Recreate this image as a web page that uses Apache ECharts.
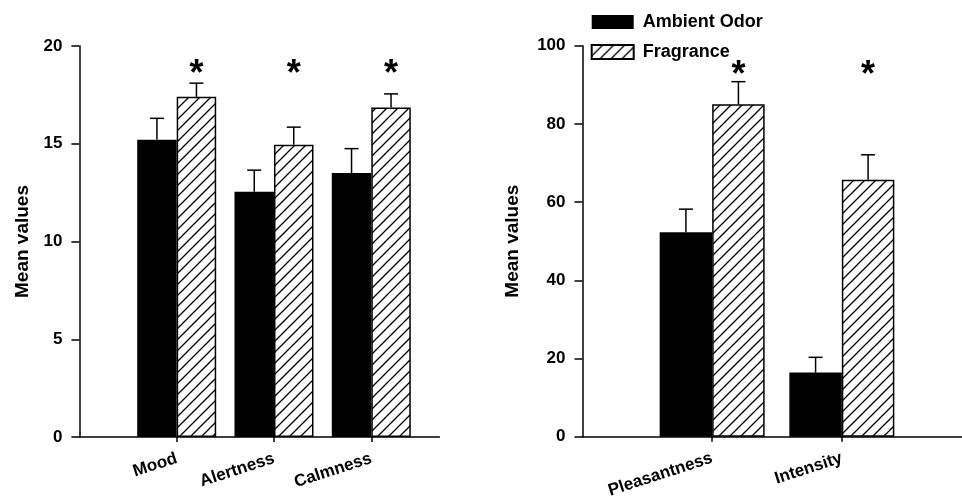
<!DOCTYPE html>
<html><head><meta charset="utf-8">
<script src="https://cdn.jsdelivr.net/npm/echarts@6/dist/echarts.min.js"></script>
<style>html,body{margin:0;padding:0;background:#fff}#c{width:962px;height:497px}</style>
</head><body><div id="c"></div>
<script>
// ---- data ----
const leftCategories = ['Mood', 'Alertness', 'Calmness'];
const leftAmbient = [15.2, 12.55, 13.5];
const leftAmbientErr = [1.1, 1.1, 1.25];
const leftFragrance = [17.4, 14.95, 16.85];
const leftFragranceErr = [0.7, 0.9, 0.7];
const leftStarLevel = [18.9, 18.9, 18.9];
const leftTicks = [0, 5, 10, 15, 20];

const rightCategories = ['Pleasantness', 'Intensity'];
const rightAmbient = [52.3, 16.4];
const rightAmbientErr = [5.9, 3.9];
const rightFragrance = [85.0, 65.7];
const rightFragranceErr = [5.8, 6.4];
const rightStarLevel = [94.2, 94.2];
const rightTicks = [0, 20, 40, 60, 80, 100];

const seriesNames = ['Ambient Odor', 'Fragrance'];

// ---- styles ----
const FONT = 'Liberation Sans, Arial, sans-serif';
function hatchCanvas() {
  const s = 11;
  const c = document.createElement('canvas');
  c.width = s; c.height = s;
  const g = c.getContext('2d');
  g.fillStyle = '#fff'; g.fillRect(0, 0, s, s);
  g.strokeStyle = '#000'; g.lineWidth = 1.3;
  g.beginPath();
  g.moveTo(-2, s + 2); g.lineTo(s + 2, -2);
  g.moveTo(-2, 2); g.lineTo(2, -2);
  g.moveTo(s - 2, s + 2); g.lineTo(s + 2, s - 2);
  g.stroke();
  return c;
}
const hatch = { image: hatchCanvas(), repeat: 'repeat' };

const chart = echarts.init(document.getElementById('c'), null, { renderer: 'canvas' });

function xAxisCfg(gridIndex, cats, max) {
  return {
    type: 'value', gridIndex, min: 0, max, interval: 1,
    splitLine: { show: false },
    axisLine: { lineStyle: { color: '#000', width: 1.5 } },
    axisTick: { show: true, length: 5, customValues: cats.map((c, i) => i + 1), lineStyle: { color: '#000', width: 1.5 } },
    axisLabel: {
      customValues: cats.map((c, i) => i + 1),
      formatter: v => cats[Math.round(v) - 1] || '',
      rotate: 18, margin: 21, color: '#000', fontSize: 17, fontWeight: 'bold', fontFamily: FONT
    }
  };
}
function yAxisCfg(gridIndex, ticks, nameGap) {
  return {
    type: 'value', gridIndex, min: ticks[0], max: ticks[ticks.length - 1], interval: ticks[1] - ticks[0],
    name: 'Mean values', nameLocation: 'middle', nameGap,
    nameTextStyle: { color: '#000', fontSize: 19, fontWeight: 'bold', fontFamily: FONT },
    splitLine: { show: false },
    axisLine: { show: true, lineStyle: { color: '#000', width: 1.5 } },
    axisTick: { show: true, length: 8, lineStyle: { color: '#000', width: 1.5 } },
    axisLabel: { margin: 17, color: '#000', fontSize: 17, fontWeight: 'bold', fontFamily: FONT }
  };
}
function barSeries(name, idx, vals, fill, width) {
  return {
    type: 'bar', name, xAxisIndex: idx, yAxisIndex: idx,
    data: vals.map((v, i) => [i + 1, v]),
    barWidth: width, barGap: '0%',
    itemStyle: fill === 'hatch'
      ? { color: hatch, borderColor: '#000', borderWidth: 1.5 }
      : { color: '#000' },
    emphasis: { disabled: true }, silent: true, z: 2
  };
}
function errSeries(idx, vals, errs, side, width) {
  return {
    type: 'custom', xAxisIndex: idx, yAxisIndex: idx, silent: true, z: 5,
    data: vals.map((v, i) => [i + 1, v, v + errs[i]]),
    renderItem: (params, api) => {
      const b = api.coord([api.value(0), api.value(1)]);
      const t = api.coord([api.value(0), api.value(2)]);
      const cx = b[0] + side * width / 2;
      const st = { stroke: '#000', lineWidth: 1.5 };
      return { type: 'group', children: [
        { type: 'line', shape: { x1: cx, y1: b[1], x2: cx, y2: t[1] }, style: st },
        { type: 'line', shape: { x1: cx - 7, y1: t[1], x2: cx + 7, y2: t[1] }, style: st }
      ] };
    }
  };
}
function starSeries(idx, levels, width) {
  return {
    type: 'custom', xAxisIndex: idx, yAxisIndex: idx, silent: true, z: 6,
    data: levels.map((v, i) => [i + 1, v]),
    renderItem: (params, api) => {
      const p = api.coord([api.value(0), api.value(1)]);
      return { type: 'text', x: p[0] + width / 2, y: p[1] + 8,
        style: { text: '*', fill: '#000', font: 'bold 36px ' + FONT, textAlign: 'center', textVerticalAlign: 'middle' } };
    }
  };
}

const LW = 39.5, RW = 52.5;
chart.setOption({
  animation: false,
  backgroundColor: '#fff',
  legend: {
    data: seriesNames, orient: 'vertical', left: 590.7, top: 12, padding: 0,
    itemWidth: 42, itemHeight: 14, itemGap: 10, icon: 'rect',
    textStyle: { color: '#000', fontSize: 18, fontWeight: 'bold', fontFamily: FONT, lineHeight: 20, padding: [0, 0, 0, 4] },
    selectedMode: false
  },
  grid: [
    { left: 79.4, top: 46, width: 360, height: 391, outerBoundsMode: 'none' },
    { left: 582.5, top: 45.7, width: 389, height: 391, outerBoundsMode: 'none' }
  ],
  xAxis: [xAxisCfg(0, leftCategories, 3.7), xAxisCfg(1, rightCategories, 3)],
  yAxis: [yAxisCfg(0, leftTicks, 47), yAxisCfg(1, rightTicks, 60)],
  series: [
    barSeries(seriesNames[0], 0, leftAmbient, 'black', LW),
    barSeries(seriesNames[1], 0, leftFragrance, 'hatch', LW),
    errSeries(0, leftAmbient, leftAmbientErr, -1, LW),
    errSeries(0, leftFragrance, leftFragranceErr, 1, LW),
    starSeries(0, leftStarLevel, LW),
    barSeries(seriesNames[0], 1, rightAmbient, 'black', RW),
    barSeries(seriesNames[1], 1, rightFragrance, 'hatch', RW),
    errSeries(1, rightAmbient, rightAmbientErr, -1, RW),
    errSeries(1, rightFragrance, rightFragranceErr, 1, RW),
    starSeries(1, rightStarLevel, RW)
  ]
});
</script></body></html>
